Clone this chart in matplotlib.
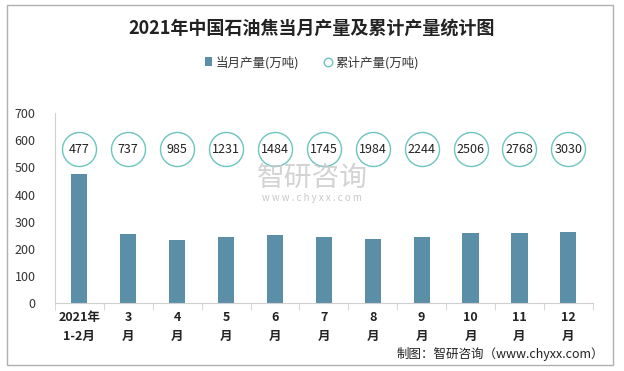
import matplotlib.pyplot as plt
from matplotlib.patches import Rectangle

plt.rcParams['font.family'] = ['Noto Sans CJK SC', 'DejaVu Sans']

months = ['2021年\n1-2月', '3\n月', '4\n月', '5\n月', '6\n月', '7\n月',
          '8\n月', '9\n月', '10\n月', '11\n月', '12\n月']
monthly = [477, 255, 232, 243, 250, 244, 237, 244, 258, 258, 262]
cumulative = [477, 737, 985, 1231, 1484, 1745, 1984, 2244, 2506, 2768, 3030]

bar_color = '#5b8fa8'
ring_color = '#6cc4bf'

fig = plt.figure(figsize=(6.24, 3.71), dpi=100)
fig.patches.append(Rectangle((0.012, 0.016), 0.97, 0.97, transform=fig.transFigure,
                             fill=False, edgecolor='#b0b0b0', linewidth=1))

ax = fig.add_axes([0.088, 0.183, 0.862, 0.512])
x = list(range(len(months)))
bars = ax.bar(x, monthly, width=0.33, color=bar_color, label='当月产量(万吨)')

# cumulative values shown as ring markers at a fixed height
ring_y = [567] * len(cumulative)
rings, = ax.plot(x, ring_y, linestyle='none', marker='o', markersize=24.5,
                 markerfacecolor='white', markeredgecolor=ring_color, markeredgewidth=1,
                 label='累计产量(万吨)')
for xi, v in zip(x, cumulative):
    ax.text(xi, 567, str(v), ha='center', va='center', fontsize=9, color='#222222')

ax.set_xlim(-0.5, len(months) - 0.5)
ax.set_ylim(0, 700)
ax.set_yticks(range(0, 701, 100))
ax.tick_params(axis='y', length=0, labelsize=9, colors='#333333', pad=14)
ax.set_xticks(x)
ax.set_xticklabels(months, fontsize=9, fontweight='bold', color='#222222', linespacing=1.6)
ax.set_xticks([i - 0.5 for i in range(len(months) + 1)], minor=True)
ax.tick_params(axis='x', which='major', length=0, pad=6)
ax.tick_params(axis='x', which='minor', length=5, color='#d0d0d0')
for s in ['top', 'right']:
    ax.spines[s].set_visible(False)
ax.spines['left'].set_color('#d0d0d0')
ax.spines['bottom'].set_color('#d0d0d0')

fig.text(0.5, 0.925, '2021年中国石油焦当月产量及累计产量统计图', ha='center', va='center',
         fontsize=13, fontweight='bold', color='#222222')

leg = fig.legend(handles=[bars, rings], loc='center', bbox_to_anchor=(0.5, 0.832), ncol=2,
                 frameon=False, fontsize=9, handlelength=0.6, handletextpad=0.3,
                 columnspacing=2.0, markerscale=0.25)
for t in leg.get_texts():
    t.set_color('#333333')

# watermark
fig.text(0.5, 0.52, '智研咨询', ha='center', va='center', fontsize=20, color='#c8c8c8', alpha=0.8)
fig.text(0.5, 0.465, 'w w w . c h y x x . c o m', ha='center', va='center', fontsize=7,
         color='#c8c8c8')

fig.text(0.968, 0.045, '制图：智研咨询（www.chyxx.com）', ha='right', va='center',
         fontsize=9, color='#222222')

plt.savefig('out.png', dpi=100)
